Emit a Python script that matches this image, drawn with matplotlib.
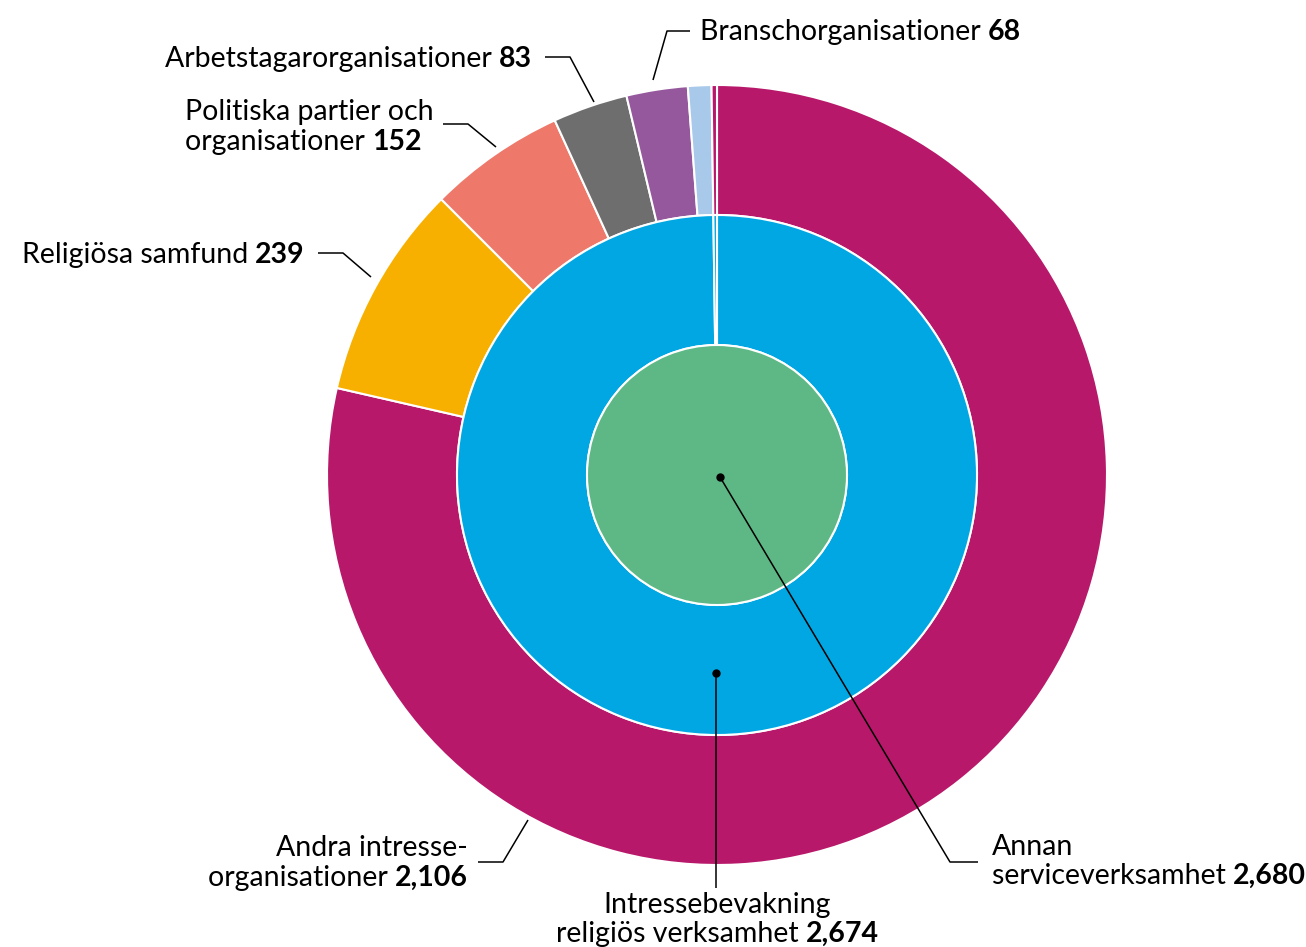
import matplotlib.pyplot as plt

# Data (counts)
inner_labels = ["Annan\nserviceverksamhet"]
inner_values = [2680]

middle_labels = ["Intressebevakning\nreligiös verksamhet", "Övrigt"]
middle_values = [2674, 6]

outer_labels = ["Andra intresse-\norganisationer", "Religiösa samfund",
                "Politiska partier och\norganisationer", "Arbetstagarorganisationer",
                "Branschorganisationer", "Övriga", "Övrigt"]
outer_values = [2106, 239, 152, 83, 68, 26, 6]

outer_colors = ["#B8186A", "#F8B000", "#EE7869", "#6E6E6E", "#95589C", "#A9C9EA", "#B8186A"]
middle_colors = ["#00A7E3", "#00A7E3"]
inner_colors = ["#5DB886"]

plt.rcParams['font.family'] = ['Lato', 'DejaVu Sans']
FS = 20.5

W, H = 1306, 947
fig = plt.figure(figsize=(W / 100, H / 100), dpi=100)
ax = fig.add_axes([0, 0, 1, 1])

cx, cy = 717, H - 475
wp = dict(edgecolor='white', linewidth=1.5)

ax.pie(outer_values, radius=390, center=(cx, cy), startangle=90, counterclock=False,
       colors=outer_colors, wedgeprops=dict(width=130, **wp))
ax.pie(middle_values, radius=260, center=(cx, cy), startangle=90, counterclock=False,
       colors=middle_colors, wedgeprops=dict(width=130, **wp))
ax.pie(inner_values, radius=130, center=(cx, cy), startangle=90, counterclock=False,
       colors=inner_colors, wedgeprops=wp)

ax.set_xlim(0, W)
ax.set_ylim(0, H)
ax.set_aspect('auto')
ax.axis('off')

renderer = fig.canvas.get_renderer()


def Y(yp):
    return H - yp


def run(x, yp, parts, ha='left'):
    # draw a line of text pieces with mixed weights
    texts = []
    for s, w in parts:
        t = ax.text(0, Y(yp + 2), s, fontsize=FS, fontweight=w, va='center', ha='left')
        texts.append(t)
    widths = [t.get_window_extent(renderer).width for t in texts]
    total = sum(widths)
    if ha == 'left':
        x0 = x
    elif ha == 'right':
        x0 = x - total
    else:
        x0 = x - total / 2
    for t, w in zip(texts, widths):
        t.set_x(x0)
        x0 += w


def leader(pts):
    xs = [p[0] for p in pts]
    ys = [Y(p[1]) for p in pts]
    ax.plot(xs, ys, color='black', lw=1.1, solid_capstyle='butt')


def num(v):
    return f"{v:,}"


# Outer ring labels
run(700, 30, [(outer_labels[4] + " ", 'normal'), (num(outer_values[4]), 'bold')])
leader([(690, 31), (667, 31), (653, 80)])

run(532, 57, [(outer_labels[3] + " ", 'normal'), (num(outer_values[3]), 'bold')], ha='right')
leader([(545, 57), (570, 57), (594, 102)])

p1, p2 = outer_labels[2].split("\n")
run(185, 110, [(p1, 'normal')])
run(185, 140, [(p2 + " ", 'normal'), (num(outer_values[2]), 'bold')])
leader([(443, 124), (468, 124), (496, 147)])

run(305, 253, [(outer_labels[1] + " ", 'normal'), (num(outer_values[1]), 'bold')], ha='right')
leader([(318, 253), (343, 253), (371, 277)])

a1, a2 = outer_labels[0].split("\n")
run(468, 846, [(a1, 'normal')], ha='right')
run(468, 876, [(a2 + " ", 'normal'), (num(outer_values[0]), 'bold')], ha='right')
leader([(478, 862), (503, 862), (528, 820)])

# Middle ring label
m1, m2 = middle_labels[0].split("\n")
ax.plot([716], [Y(673)], 'o', color='black', ms=5)
leader([(716, 673), (716, 888)])
run(717, 903, [(m1, 'normal')], ha='center')
run(717, 932, [(m2 + " ", 'normal'), (num(middle_values[0]), 'bold')], ha='center')

# Inner circle label
i1, i2 = inner_labels[0].split("\n")
ax.plot([720], [Y(477)], 'o', color='black', ms=5)
leader([(720, 477), (950, 862), (978, 862)])
run(992, 845, [(i1, 'normal')])
run(992, 874, [(i2 + " ", 'normal'), (num(inner_values[0]), 'bold')])

fig.savefig("out.png", dpi=100)
